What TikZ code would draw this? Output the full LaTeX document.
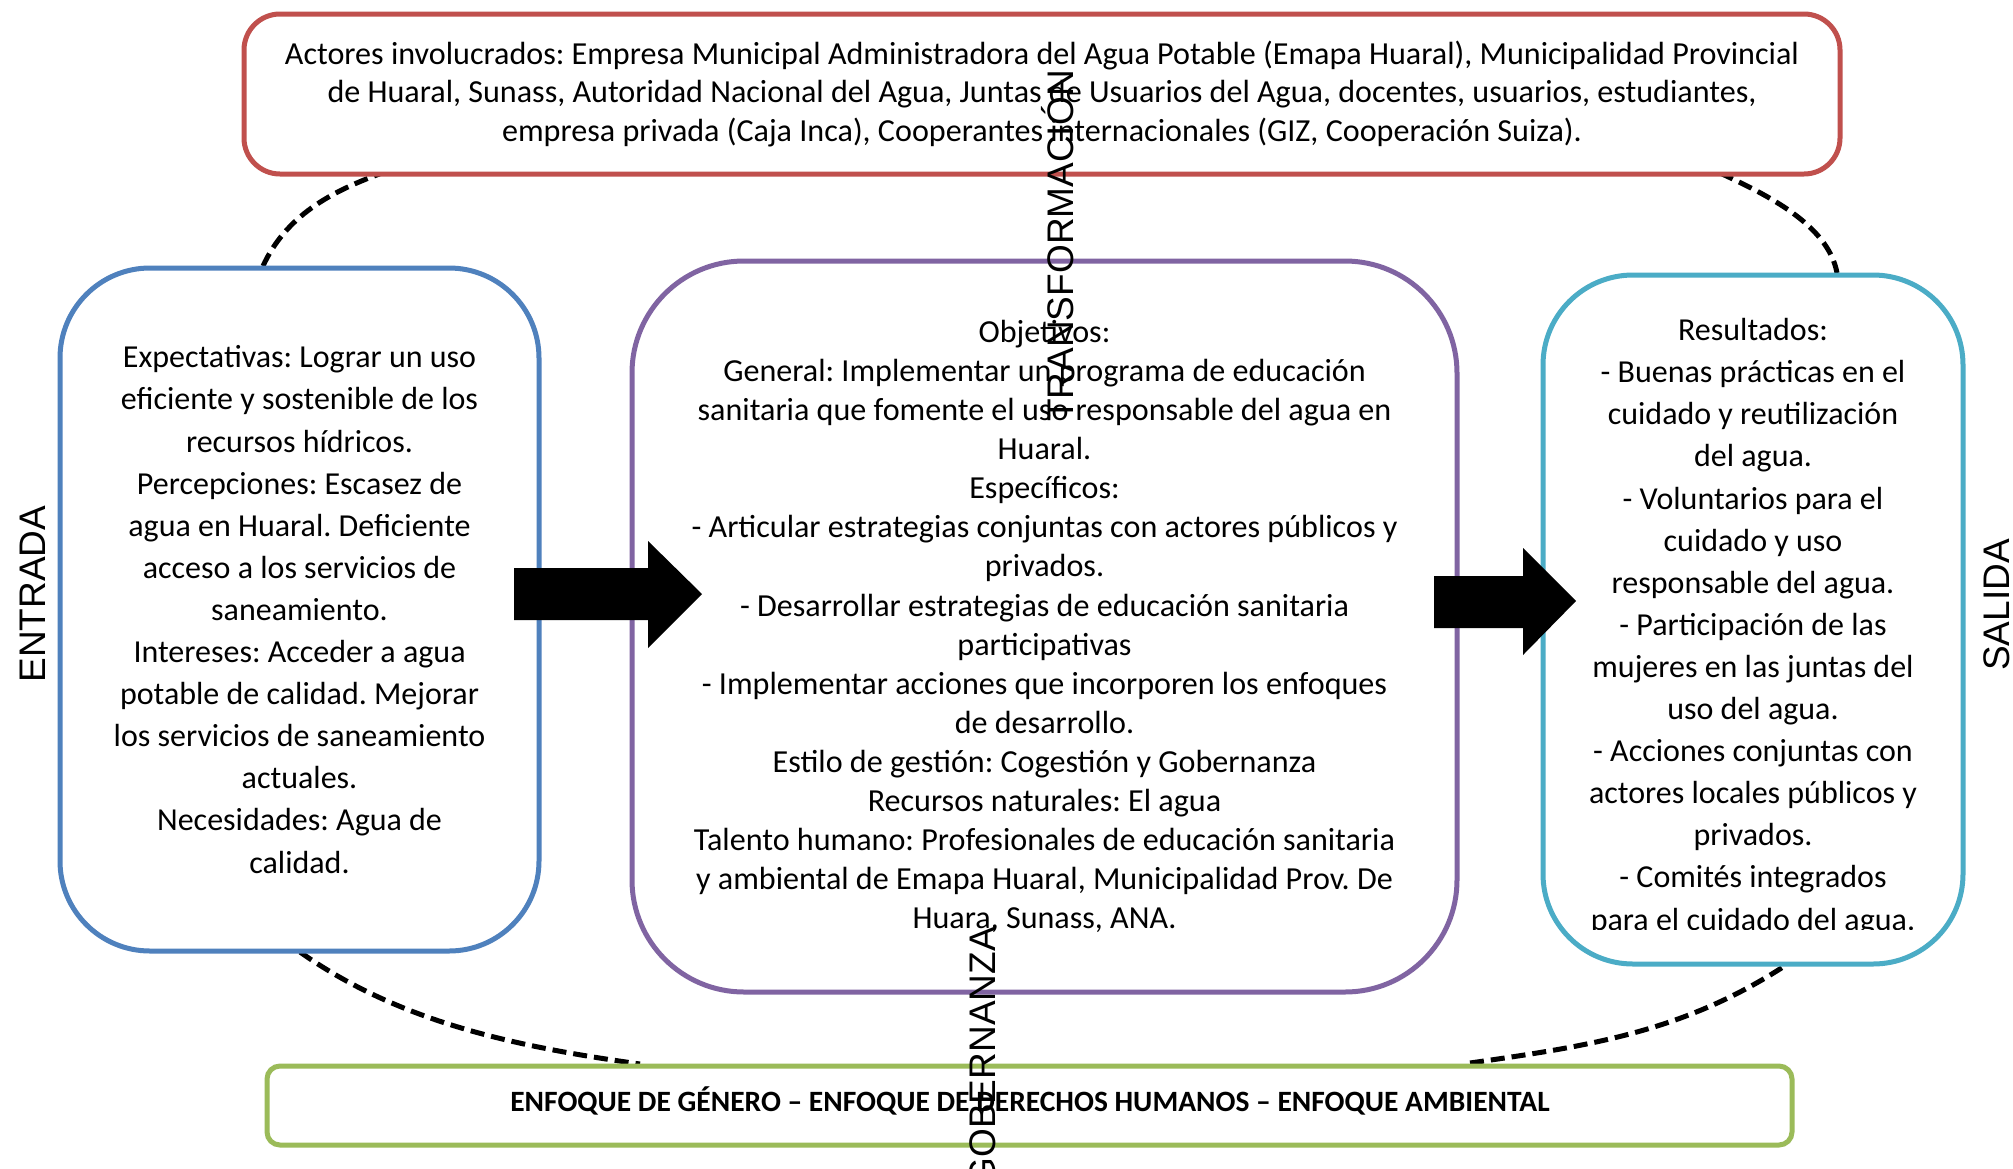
\documentclass[tikz,border=0pt]{standalone}
\usepackage{fontspec}
\setmainfont{Carlito}
\newfontfamily\labelfont{Liberation Sans}
\usetikzlibrary{calc}
\definecolor{cred}{HTML}{C0504D}
\definecolor{cblue}{HTML}{4F81BD}
\definecolor{cpurple}{HTML}{8064A2}
\definecolor{ccyan}{HTML}{4BACC6}
\definecolor{cgreen}{HTML}{9BBB59}
\newcommand\FontTop{\frenchspacing\fontsize{32.1}{38.5}\selectfont}
\newcommand\FontMid{\frenchspacing\fontsize{32.1}{39.1}\selectfont}
\newcommand\FontSide{\frenchspacing\fontsize{32}{42.1}\selectfont}
\newcommand\FontGreen{\frenchspacing\fontsize{29.5}{32}\selectfont\bfseries}
\newcommand\FontLabel{\labelfont\fontsize{37}{40}\selectfont}
\begin{document}
\begin{tikzpicture}[x=1pt,y=-1pt,
  box/.style={draw, line width=5pt, fill=white, align=center, inner sep=0pt},
  dasharc/.style={draw=black, line width=5pt, dash pattern=on 14pt off 7pt},
  sidelabel/.style={font=\FontLabel, rotate=90, inner sep=0pt, anchor=base}]
\useasboundingbox (0,0) rectangle (2013,1168);
\fill[white] (0,0) rectangle (2013,1168);

% dashed arcs (behind the boxes)
\coordinate (tla) at (263,266);
\coordinate (tlb) at (382,173);
\coordinate (tra) at (1720,173);
\coordinate (trb) at (1837,273);
\coordinate (bla) at (300,952);
\coordinate (blb) at (640,1064);
\coordinate (bra) at (1470,1063);
\coordinate (brb) at (1783,967);
\draw[dasharc] (tla) .. controls (286,216) and (330,192) .. (tlb);
\draw[dasharc] (tra) .. controls (1765,194) and (1828,224) .. (trb);
\draw[dasharc] (bla) .. controls (398,1021) and (511,1046) .. (blb);
\draw[dasharc] (bra) .. controls (1589,1046) and (1682,1032) .. (brb);

% boxes
\node[box, draw=cred, rounded corners=36pt, minimum width=1596pt, minimum height=160pt, font=\FontTop] (actors) at (1042,94)
{Actores involucrados: Empresa Municipal Administradora del Agua Potable (Emapa Huaral), Municipalidad Provincial\\
de Huaral, Sunass, Autoridad Nacional del Agua, Juntas de Usuarios del Agua, docentes, usuarios, estudiantes,\\
empresa privada (Caja Inca), Cooperantes internacionales (GIZ, Cooperación Suiza).};

\node[box, draw=cblue, rounded corners=90pt, minimum width=479pt, minimum height=683pt, font=\FontSide] (entrada) at (299.5,609.5)
{Expectativas: Lograr un uso\\
eficiente y sostenible de los\\
recursos hídricos.\\
Percepciones: Escasez de\\
agua en Huaral. Deficiente\\
acceso a los servicios de\\
saneamiento.\\
Intereses: Acceder a agua\\
potable de calidad. Mejorar\\
los servicios de saneamiento\\
actuales.\\
Necesidades: Agua de\\
calidad.};

\node[box, draw=cpurple, rounded corners=112pt, minimum width=825pt, minimum height=731pt, font=\FontMid] (proceso) at (1044.5,626.5)
{Objetivos:\\
General: Implementar un programa de educación\\
sanitaria que fomente el uso responsable del agua en\\
Huaral.\\
Específicos:\\
- Articular estrategias conjuntas con actores públicos y\\
privados.\\
- Desarrollar estrategias de educación sanitaria\\
participativas\\
- Implementar acciones que incorporen los enfoques\\
de desarrollo.\\
Estilo de gestión: Cogestión y Gobernanza\\
Recursos naturales: El agua\\
Talento humano: Profesionales de educación sanitaria\\
y ambiental de Emapa Huaral, Municipalidad Prov. De\\
Huara, Sunass, ANA.};

\node[box, draw=ccyan, rounded corners=90pt, minimum width=420pt, minimum height=689pt] (salida) at (1753,619.5) {};
\begin{scope}
\clip (1543,275) rectangle (1963,929);
\node[align=center, inner sep=0pt, font=\FontSide] (resultados) at (1753,627)
{Resultados:\\
- Buenas prácticas en el\\
cuidado y reutilización\\
del agua.\\
- Voluntarios para el\\
cuidado y uso\\
responsable del agua.\\
- Participación de las\\
mujeres en las juntas del\\
uso del agua.\\
- Acciones conjuntas con\\
actores locales públicos y\\
privados.\\
- Comités integrados\\
para el cuidado del agua.};
\end{scope}

\node[box, draw=cgreen, rounded corners=13pt, minimum width=1525pt, minimum height=79pt] (enfoque) at (1029.5,1105.5) {};
\node[font=\FontGreen, inner sep=0pt] (enfoquetxt) at (1030,1101)
{ENFOQUE DE GÉNERO – ENFOQUE DE DERECHOS HUMANOS – ENFOQUE AMBIENTAL};

% block arrows
\coordinate (a1) at (514,594);
\fill[black] (a1) ++(0,-26) -- ++(134,0) -- ++(0,-27) -- (702,594) -- (648,648) -- ++(0,-28) -- ++(-134,0) -- cycle;
\coordinate (a2) at (1434,602);
\fill[black] (a2) ++(0,-26) -- ++(89,0) -- ++(0,-28) -- (1576,601) -- (1523,655) -- ++(0,-27) -- ++(-89,0) -- cycle;

% rotated labels
\node[sidelabel] (lentrada) at (45,594) {ENTRADA};
\node[sidelabel] (lsalida) at (2009,605) {SALIDA};
\node[sidelabel] (ltransf) at (1073,246) {TRANSFORMACIÓN};
\node[sidelabel, anchor=base east] (lgob) at (995,927) {GOBERNANZA};
\end{tikzpicture}
\end{document}
